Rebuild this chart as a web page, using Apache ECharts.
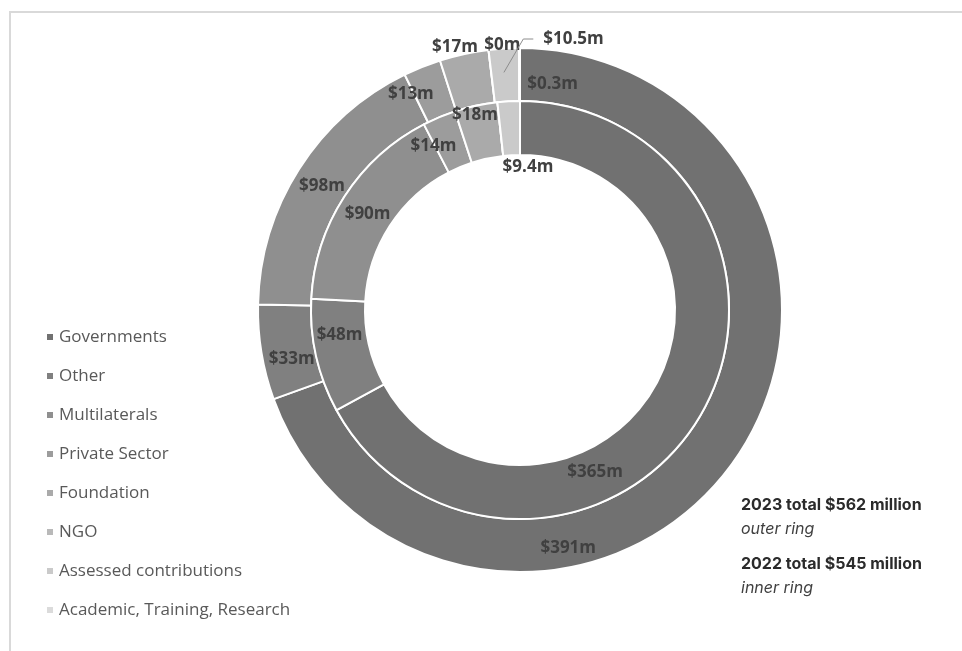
<!DOCTYPE html>
<html>
<head>
<meta charset="utf-8">
<title>Funding by source, 2022 and 2023</title>
<script src="https://cdn.jsdelivr.net/npm/echarts@6/dist/echarts.min.js"></script>
<style>
  html, body { margin: 0; padding: 0; background: #ffffff; }
  #frame {
    position: absolute; left: 9px; top: 11px; right: 0; bottom: 0;
    border-left: 2px solid #d9d9d9; border-top: 2px solid #d9d9d9;
  }
  #chart { position: absolute; left: 0; top: 0; width: 962px; height: 651px; }
</style>
</head>
<body>
<div id="frame"></div>
<div id="chart"></div>
<script>
// Funding sources (US$ million)
const categories = [
  'Governments', 'Other', 'Multilaterals', 'Private Sector',
  'Foundation', 'NGO', 'Assessed contributions', 'Academic, Training, Research'
];
const funding2023 = [391, 33, 98, 13, 17, 0, 10.5, 0.3];   // outer ring
const funding2022 = [365, 48, 90, 14, 18, 0, 9.4, 0];      // inner ring
const totalYears = ['2023', '2022'];
const totalValues = [562, 545];
const ringNames = ['outer ring', 'inner ring'];

// Grey ramp, one shade per source
const shades = ['#717171', '#808080', '#8f8f8f', '#9c9c9c', '#aaaaaa', '#b9b9b9', '#cacaca', '#dbdbdb'];

// Nudges applied to the data labels (px, relative to the centre of each sector)
const outerShift = [[-147, 101], [7, 10], [3, 5], [-20, 5], [-14, -30], [11, -28], null, [33, 13]];
const innerShift = [[-84, 68], [0, -16], [3, 5], [-15, 7], [-6, -14], null, [18, 42], null];
const calloutIndex = 6; // outer label drawn to the right of the ring with a leader line

const labelFont = { fontFamily: 'Open Sans', fontSize: 17, fontWeight: 'bold', color: '#404040' };

// Leader line for the callout label, filled in by the label layout pass
let calloutPath = null;

function buildData(values, ring) {
  return values.map((v, i) => {
    const item = { name: categories[i], value: v, itemStyle: { color: shades[i] } };
    if (ring === 'inner' && innerShift[i] === null) item.label = { show: false };
    return item;
  });
}

function shiftLayout(shifts) {
  return function (p) {
    const r = p.labelRect;
    if (shifts === outerShift && p.dataIndex === calloutIndex) {
      const h = p.rect; // bounding box of the sector
      const lx = h.x + h.width + 23;
      const ly = h.y - 8;
      calloutPath = [[h.x + h.width / 2, h.y + h.height * 0.45], [lx - 20, ly], [lx - 10, ly]];
      return { x: lx, y: ly, align: 'left', verticalAlign: 'middle' };
    }
    const d = shifts[p.dataIndex] || [0, 0];
    return {
      x: r.x + r.width / 2 + d[0],
      y: r.y + r.height / 2 + d[1],
      align: 'center', verticalAlign: 'middle'
    };
  };
}

function totalsGraphic() {
  const items = totalYears.map((yr, i) => ({
    type: 'group', x: 741, y: 505 + i * 59,
    children: [
      {
        type: 'text', x: 0, y: 0,
        style: {
          text: yr + ' total $' + totalValues[i] + ' million',
          font: 'bold 16px Inter', fill: '#2b2b2b', align: 'left', verticalAlign: 'middle'
        }
      },
      {
        type: 'text', x: 0, y: 24,
        style: {
          text: ringNames[i],
          font: 'italic 16px Inter', fill: '#404040', align: 'left', verticalAlign: 'middle'
        }
      }
    ]
  }));
  if (calloutPath) {
    items.push({
      type: 'polyline', z: 10, silent: true,
      shape: { points: calloutPath },
      style: { stroke: '#8c8c8c', lineWidth: 1, fill: null }
    });
  }
  return items;
}

const center = [520, 310];
const ringLabel = Object.assign({
  show: true, position: 'inside',
  formatter: p => '$' + p.value + 'm'
}, labelFont);

const chart = echarts.init(document.getElementById('chart'), null, { renderer: 'canvas' });
chart.setOption({
  animation: false,
  backgroundColor: 'transparent',
  legend: {
    orient: 'vertical',
    left: 40, top: 322,
    data: categories,
    icon: 'rect',
    itemWidth: 8, itemHeight: 8,
    itemGap: 19,
    selectedMode: false,
    textStyle: { fontFamily: 'Open Sans', fontSize: 17, color: '#595959', lineHeight: 20 }
  },
  series: [
    {
      name: '2023', type: 'pie',
      center: center, radius: [209, 262],
      startAngle: 90, clockwise: true,
      avoidLabelOverlap: false,
      itemStyle: { borderColor: '#ffffff', borderWidth: 2 },
      label: ringLabel,
      labelLine: { show: false },
      labelLayout: shiftLayout(outerShift),
      emphasis: { disabled: true },
      data: buildData(funding2023, 'outer')
    },
    {
      name: '2022', type: 'pie',
      center: center, radius: [155, 209],
      startAngle: 90, clockwise: true,
      avoidLabelOverlap: false,
      itemStyle: { borderColor: '#ffffff', borderWidth: 2 },
      label: ringLabel,
      labelLine: { show: false },
      labelLayout: shiftLayout(innerShift),
      emphasis: { disabled: true },
      data: buildData(funding2022, 'inner')
    }
  ],
  graphic: totalsGraphic()
});
// Second pass: the leader line is known once the labels have been laid out
chart.setOption({ graphic: totalsGraphic() });
</script>
</body>
</html>
